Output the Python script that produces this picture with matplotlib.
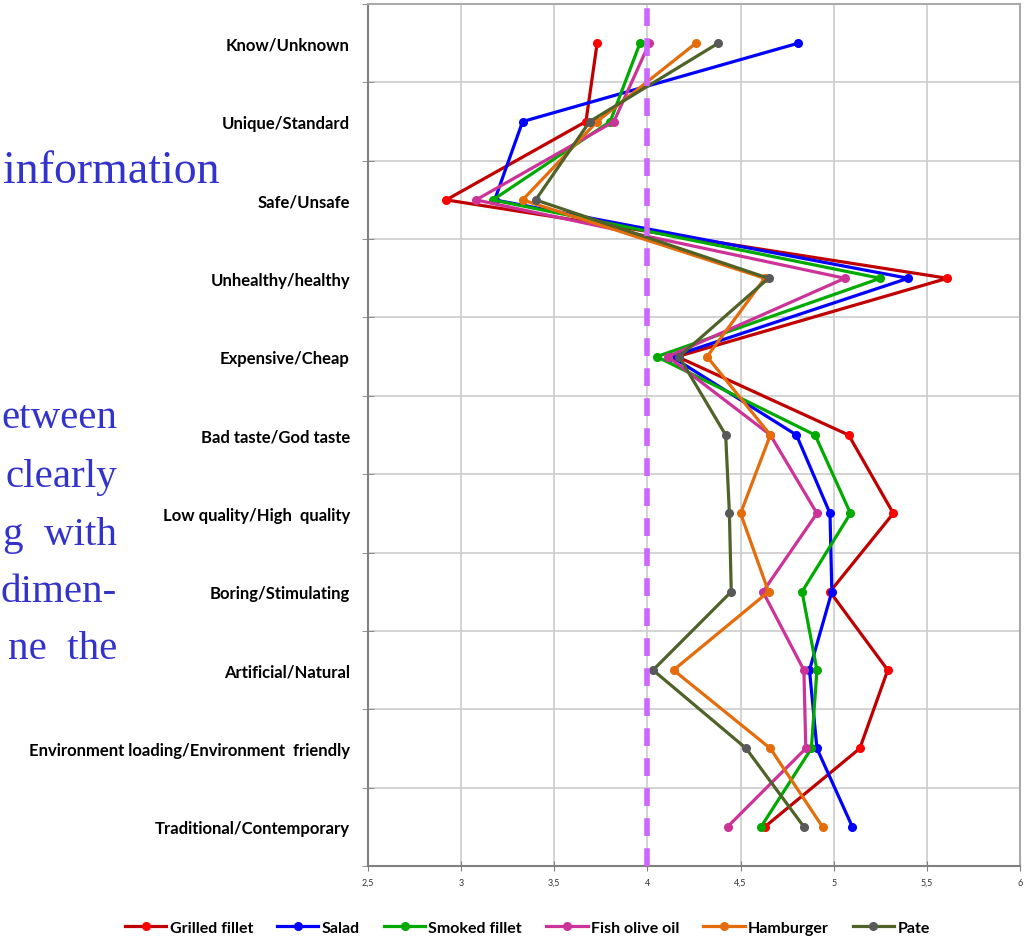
import matplotlib
matplotlib.use("Agg")
import matplotlib.pyplot as plt
from matplotlib.ticker import FixedLocator

# attribute pairs, top to bottom
categories = ["Know/Unknown", "Unique/Standard", "Safe/Unsafe", "Unhealthy/healthy",
              "Expensive/Cheap", "Bad taste/God taste", "Low quality/High  quality",
              "Boring/Stimulating", "Artificial/Natural",
              "Environment loading/Environment  friendly", "Traditional/Contemporary"]

grilled_fillet = [3.73, 3.67, 2.92, 5.61, 4.16, 5.08, 5.32, 4.98, 5.29, 5.14, 4.63]
salad = [4.81, 3.33, 3.18, 5.40, 4.13, 4.80, 4.98, 4.99, 4.87, 4.91, 5.10]
smoked_fillet = [3.96, 3.80, 3.17, 5.25, 4.05, 4.90, 5.09, 4.83, 4.91, 4.88, 4.61]
fish_olive_oil = [4.01, 3.82, 3.08, 5.06, 4.11, 4.66, 4.91, 4.62, 4.84, 4.85, 4.43]
hamburger = [4.26, 3.73, 3.33, 4.63, 4.32, 4.66, 4.50, 4.65, 4.14, 4.66, 4.94]
pate = [4.38, 3.69, 3.40, 4.65, 4.17, 4.42, 4.44, 4.45, 4.03, 4.53, 4.84]

series_names = ["Grilled fillet", "Salad", "Smoked fillet", "Fish olive oil", "Hamburger", "Pate"]
x_ticks = [2.5, 3, 3.5, 4, 4.5, 5, 5.5, 6]
x_tick_labels = ["2,5", "3", "3,5", "4", "4,5", "5", "5,5", "6"]
neutral = 4

# (line colour, marker colour)
styles = [("#C00000", "#FF0000"), ("#0000FF", "#0000FF"), ("#00AA00", "#00AA00"),
          ("#CC3399", "#CC3399"), ("#E46C0A", "#E46C0A"), ("#4F6228", "#595959")]

plt.rcParams['font.family'] = ['Lato', 'DejaVu Sans']

fig = plt.figure(figsize=(10.34, 9.37), dpi=100)
ax = fig.add_axes([368 / 1034, 1 - 867 / 937, 652 / 1034, 862 / 937])

y = list(range(len(categories)))
all_series = [grilled_fillet, salad, smoked_fillet, fish_olive_oil, hamburger, pate]
for vals, name, (lc, mc) in zip(all_series, series_names, styles):
    ax.plot(vals, y, color=lc, lw=2.3, marker='o', ms=5.5, mfc=mc, mec=mc,
            label=name, zorder=3)

ax.axvline(neutral, color="#CC66FF", lw=4, dashes=(3.2, 2.2), zorder=4)

ax.set_xlim(2.5, 6)
ax.set_ylim(len(categories) - 0.5, -0.5)

ax.set_xticks(x_ticks)
ax.set_xticklabels(x_tick_labels, fontsize=6.5, color="#333333")
ax.tick_params(axis='x', direction='inout', length=7, color="#808080", pad=5)

ax.set_yticks(y)
ax.set_yticklabels(categories, fontsize=12, fontweight='bold')
ax.tick_params(axis='y', which='major', length=0, pad=13)
ax.yaxis.set_minor_locator(FixedLocator([i - 0.5 for i in range(len(categories) + 1)]))
ax.tick_params(axis='y', which='minor', direction='inout', length=9, color="#808080")

ax.grid(True, axis='x', which='major', color="#CCCCCC", lw=1.2)
ax.grid(True, axis='y', which='minor', color="#CCCCCC", lw=1.2)
ax.set_axisbelow(True)

for side in ['left', 'bottom']:
    ax.spines[side].set_color("#808080")
    ax.spines[side].set_linewidth(1.5)
for side in ['top', 'right']:
    ax.spines[side].set_color("#AAAAAA")
    ax.spines[side].set_linewidth(1.5)

fig.legend(loc='lower center', bbox_to_anchor=(0.51, -0.014), ncol=6, frameon=False,
           prop={'weight': 'bold', 'size': 11.5}, handlelength=2.6, columnspacing=1.5,
           handletextpad=0.2)

# slide text, cut off on the left in the original
serif = dict(family=['Liberation Serif', 'DejaVu Serif'], color="#3333CC")
fig.text(3 / 1034, 1 - 172 / 937, "information", ha='left', va='center',
         fontsize=33, **serif)
for txt, ypx in [("etween", 418), ("clearly", 478), ("g  with", 535),
                 ("dimen-", 592), ("ne  the", 650)]:
    fig.text(117 / 1034, 1 - ypx / 937, txt, ha='right', va='center',
             fontsize=29.5, **serif)

fig.savefig("out.png", dpi=100)
